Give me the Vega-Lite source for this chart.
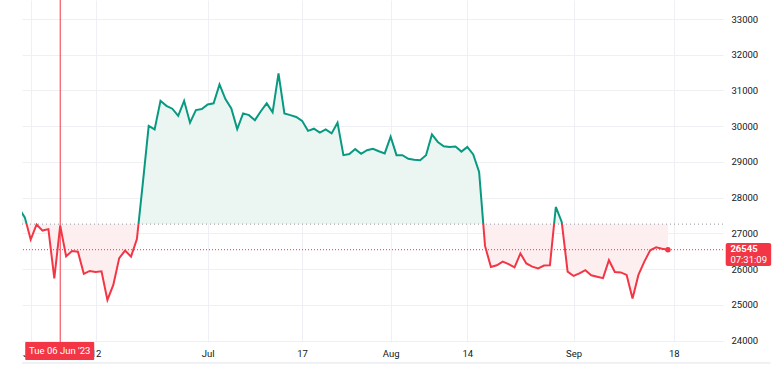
{
  "$schema": "https://vega.github.io/schema/vega-lite/v6.json",
  "width": 701,
  "height": 342,
  "autosize": {"type": "none"},
  "padding": {"left": 22, "top": 0, "right": 54, "bottom": 35},
  "background": "#ffffff",
  "config": {"view": {"stroke": null}, "font": "Roboto"},
  "data": {"values": [
    {"date": "2023-05-30", "close": 27700},
    {"date": "2023-05-31", "close": 27450},
    {"date": "2023-06-01", "close": 26830},
    {"date": "2023-06-02", "close": 27250},
    {"date": "2023-06-03", "close": 27080},
    {"date": "2023-06-04", "close": 27120},
    {"date": "2023-06-05", "close": 25740},
    {"date": "2023-06-06", "close": 27220},
    {"date": "2023-06-07", "close": 26360},
    {"date": "2023-06-08", "close": 26510},
    {"date": "2023-06-09", "close": 26490},
    {"date": "2023-06-10", "close": 25870},
    {"date": "2023-06-11", "close": 25950},
    {"date": "2023-06-12", "close": 25920},
    {"date": "2023-06-13", "close": 25940},
    {"date": "2023-06-14", "close": 25140},
    {"date": "2023-06-15", "close": 25560},
    {"date": "2023-06-16", "close": 26310},
    {"date": "2023-06-17", "close": 26520},
    {"date": "2023-06-18", "close": 26350},
    {"date": "2023-06-19", "close": 26840},
    {"date": "2023-06-20", "close": 28400},
    {"date": "2023-06-21", "close": 30010},
    {"date": "2023-06-22", "close": 29910},
    {"date": "2023-06-23", "close": 30710},
    {"date": "2023-06-24", "close": 30570},
    {"date": "2023-06-25", "close": 30490},
    {"date": "2023-06-26", "close": 30290},
    {"date": "2023-06-27", "close": 30710},
    {"date": "2023-06-28", "close": 30100},
    {"date": "2023-06-29", "close": 30450},
    {"date": "2023-06-30", "close": 30480},
    {"date": "2023-07-01", "close": 30610},
    {"date": "2023-07-02", "close": 30640},
    {"date": "2023-07-03", "close": 31170},
    {"date": "2023-07-04", "close": 30760},
    {"date": "2023-07-05", "close": 30500},
    {"date": "2023-07-06", "close": 29920},
    {"date": "2023-07-07", "close": 30360},
    {"date": "2023-07-08", "close": 30310},
    {"date": "2023-07-09", "close": 30170},
    {"date": "2023-07-10", "close": 30420},
    {"date": "2023-07-11", "close": 30640},
    {"date": "2023-07-12", "close": 30390},
    {"date": "2023-07-13", "close": 31480},
    {"date": "2023-07-14", "close": 30360},
    {"date": "2023-07-15", "close": 30310},
    {"date": "2023-07-16", "close": 30260},
    {"date": "2023-07-17", "close": 30150},
    {"date": "2023-07-18", "close": 29870},
    {"date": "2023-07-19", "close": 29930},
    {"date": "2023-07-20", "close": 29820},
    {"date": "2023-07-21", "close": 29910},
    {"date": "2023-07-22", "close": 29800},
    {"date": "2023-07-23", "close": 30100},
    {"date": "2023-07-24", "close": 29190},
    {"date": "2023-07-25", "close": 29220},
    {"date": "2023-07-26", "close": 29360},
    {"date": "2023-07-27", "close": 29230},
    {"date": "2023-07-28", "close": 29330},
    {"date": "2023-07-29", "close": 29370},
    {"date": "2023-07-30", "close": 29300},
    {"date": "2023-07-31", "close": 29240},
    {"date": "2023-08-01", "close": 29710},
    {"date": "2023-08-02", "close": 29190},
    {"date": "2023-08-03", "close": 29190},
    {"date": "2023-08-04", "close": 29090},
    {"date": "2023-08-05", "close": 29060},
    {"date": "2023-08-06", "close": 29050},
    {"date": "2023-08-07", "close": 29190},
    {"date": "2023-08-08", "close": 29770},
    {"date": "2023-08-09", "close": 29560},
    {"date": "2023-08-10", "close": 29440},
    {"date": "2023-08-11", "close": 29420},
    {"date": "2023-08-12", "close": 29430},
    {"date": "2023-08-13", "close": 29290},
    {"date": "2023-08-14", "close": 29420},
    {"date": "2023-08-15", "close": 29210},
    {"date": "2023-08-16", "close": 28720},
    {"date": "2023-08-17", "close": 26650},
    {"date": "2023-08-18", "close": 26060},
    {"date": "2023-08-19", "close": 26110},
    {"date": "2023-08-20", "close": 26210},
    {"date": "2023-08-21", "close": 26140},
    {"date": "2023-08-22", "close": 26050},
    {"date": "2023-08-23", "close": 26440},
    {"date": "2023-08-24", "close": 26160},
    {"date": "2023-08-25", "close": 26070},
    {"date": "2023-08-26", "close": 26020},
    {"date": "2023-08-27", "close": 26100},
    {"date": "2023-08-28", "close": 26110},
    {"date": "2023-08-29", "close": 27740},
    {"date": "2023-08-30", "close": 27320},
    {"date": "2023-08-31", "close": 25930},
    {"date": "2023-09-01", "close": 25810},
    {"date": "2023-09-02", "close": 25880},
    {"date": "2023-09-03", "close": 25970},
    {"date": "2023-09-04", "close": 25830},
    {"date": "2023-09-05", "close": 25790},
    {"date": "2023-09-06", "close": 25750},
    {"date": "2023-09-07", "close": 26250},
    {"date": "2023-09-08", "close": 25920},
    {"date": "2023-09-09", "close": 25910},
    {"date": "2023-09-10", "close": 25840},
    {"date": "2023-09-11", "close": 25180},
    {"date": "2023-09-12", "close": 25840},
    {"date": "2023-09-13", "close": 26210},
    {"date": "2023-09-14", "close": 26530},
    {"date": "2023-09-15", "close": 26610},
    {"date": "2023-09-16", "close": 26570},
    {"date": "2023-09-17", "close": 26545}
  ]},
  "encoding": {
    "x": {
      "field": "date", "type": "temporal", "title": null,
      "scale": {"type": "utc", "nice": false, "domain": [
        {"year": 2023, "month": 5, "date": 30, "hours": 12, "minutes": 36, "utc": true},
        {"year": 2023, "month": 9, "date": 26, "hours": 8, "utc": true}
      ]},
      "axis": {
        "values": [
          {"year": 2023, "month": 6, "date": 1, "utc": true},
          {"year": 2023, "month": 6, "date": 12, "utc": true},
          {"year": 2023, "month": 7, "date": 1, "utc": true},
          {"year": 2023, "month": 7, "date": 17, "utc": true},
          {"year": 2023, "month": 8, "date": 1, "utc": true},
          {"year": 2023, "month": 8, "date": 14, "utc": true},
          {"year": 2023, "month": 9, "date": 1, "utc": true},
          {"year": 2023, "month": 9, "date": 18, "utc": true}
        ],
        "labelExpr": "utcdate(datum.value) == 1 ? utcFormat(datum.value, '%b') : utcFormat(datum.value, '%d')",
        "domain": false, "ticks": false, "grid": true, "gridColor": "#eef0f3", "gridWidth": 1,
        "labelColor": "#131722", "labelFontSize": 9.5, "labelPadding": 6,
        "labelOverlap": false, "labelFlush": false
      }
    },
    "y": {
      "field": "close", "type": "quantitative", "title": null,
      "scale": {"domain": [23962, 33532], "nice": false, "zero": false},
      "axis": {
        "orient": "right",
        "values": [24000, 25000, 26000, 27000, 28000, 29000, 30000, 31000, 32000, 33000],
        "format": "d",
        "domain": false, "ticks": false, "grid": true, "gridColor": "#eef0f3", "gridWidth": 1,
        "labelColor": "#131722", "labelFontSize": 9.5, "labelPadding": 8
      }
    }
  },
  "layer": [
    {
      "mark": {
        "type": "area", "clip": true,
        "fill": {"gradient": "linear", "x1": 0, "y1": 0, "x2": 0, "y2": 1, "stops": [
          {"offset": 0, "color": "#ebf6f3"},
          {"offset": 0.6656, "color": "#ebf6f3"},
          {"offset": 0.6656, "color": "#fdeef0"},
          {"offset": 1, "color": "#fdeef0"}
        ]}
      },
      "encoding": {"y2": {"datum": 27260}}
    },
    {
      "transform": [{"filter": "datum.close == 26545"}],
      "mark": {"type": "rule", "color": "#9598a1", "strokeWidth": 1, "strokeDash": [1, 3]},
      "encoding": {"x": null, "y": {"datum": 27260, "type": "quantitative"}}
    },
    {
      "transform": [{"filter": "datum.close == 26545"}],
      "mark": {"type": "rule", "color": "#f23645", "strokeWidth": 1, "strokeDash": [1, 2]},
      "encoding": {"x": null}
    },
    {
      "mark": {
        "type": "line", "clip": true, "strokeWidth": 2,
        "stroke": {"gradient": "linear", "x1": 0, "y1": 0, "x2": 0, "y2": 1, "stops": [
          {"offset": 0, "color": "#089981"},
          {"offset": 0.6656, "color": "#089981"},
          {"offset": 0.6656, "color": "#f23645"},
          {"offset": 1, "color": "#f23645"}
        ]}
      }
    },
    {
      "transform": [{"filter": "datum.close == 26545"}],
      "mark": {"type": "point", "filled": true, "color": "#f23645", "size": 30, "opacity": 1}
    },
    {
      "transform": [{"filter": "datum.close == 26545"}],
      "mark": {"type": "rule", "color": "#f23645", "strokeWidth": 1},
      "encoding": {"y": null, "x": {"datum": {"year": 2023, "month": 6, "date": 6, "utc": true}, "type": "temporal"}}
    },
    {
      "transform": [{"filter": "datum.close == 26545"}],
      "mark": {"type": "rule", "color": "#e0e3eb", "strokeWidth": 1},
      "encoding": {
        "x": {"datum": {"year": 2023, "month": 5, "date": 30, "hours": 12, "minutes": 36, "utc": true}, "type": "temporal"},
        "x2": {"datum": {"year": 2023, "month": 10, "date": 4, "hours": 10, "utc": true}},
        "y": {"datum": 23375, "type": "quantitative"}
      }
    },
    {
      "transform": [{"filter": "datum.close == 26545"}],
      "mark": {"type": "rect", "color": "#f23645", "width": 69, "height": 18, "cornerRadius": 1},
      "encoding": {
        "x": {"datum": {"year": 2023, "month": 6, "date": 5, "hours": 22, "utc": true}, "type": "temporal"},
        "y": {"datum": 23711, "type": "quantitative"}
      }
    },
    {
      "transform": [{"filter": "datum.close == 26545"}],
      "mark": {"type": "text", "color": "#ffffff", "fontSize": 9.5, "align": "center", "baseline": "middle"},
      "encoding": {
        "x": {"datum": {"year": 2023, "month": 6, "date": 5, "hours": 22, "utc": true}, "type": "temporal"},
        "y": {"datum": 23711, "type": "quantitative"},
        "text": {"value": "Tue 06 Jun '23"}
      }
    },
    {
      "transform": [{"filter": "datum.close == 26545"}],
      "mark": {"type": "rect", "color": "#f23645", "cornerRadius": 2},
      "encoding": {
        "x": {"datum": {"year": 2023, "month": 9, "date": 26, "hours": 19, "utc": true}, "type": "temporal"},
        "x2": {"datum": {"year": 2023, "month": 10, "date": 4, "hours": 12, "utc": true}},
        "y": {"datum": 26732, "type": "quantitative"},
        "y2": {"datum": 26089}
      }
    },
    {
      "transform": [{"filter": "datum.close == 26545"}],
      "mark": {"type": "text", "color": "#ffffff", "fontSize": 9.5, "fontWeight": "bold", "align": "left", "baseline": "middle", "dy": -0.5},
      "encoding": {
        "x": {"datum": {"year": 2023, "month": 9, "date": 27, "hours": 14, "utc": true}, "type": "temporal"},
        "text": {"field": "close", "type": "quantitative", "format": "d"}
      }
    },
    {
      "transform": [{"filter": "datum.close == 26545"}],
      "mark": {"type": "text", "color": "#ffffff", "fontSize": 9.5, "align": "left", "baseline": "middle", "dy": 10.5},
      "encoding": {
        "x": {"datum": {"year": 2023, "month": 9, "date": 27, "hours": 14, "utc": true}, "type": "temporal"},
        "text": {"value": "07:31:09"}
      }
    }
  ]
}
